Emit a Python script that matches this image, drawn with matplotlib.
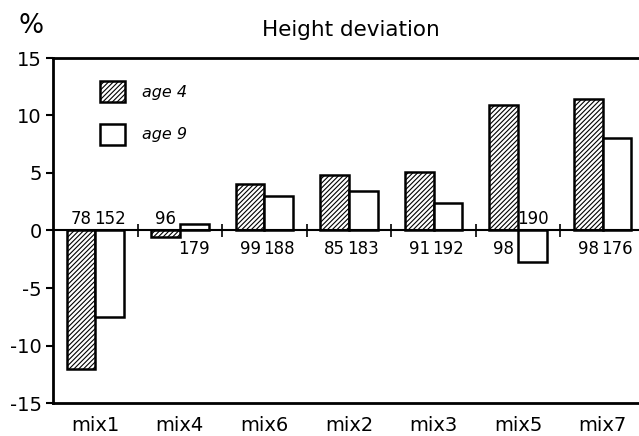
import numpy as np
import matplotlib
matplotlib.use('Agg')
import matplotlib.pyplot as plt

categories = ['mix1', 'mix4', 'mix6', 'mix2', 'mix3', 'mix5', 'mix7']
age4 = [-12.0, -0.6, 4.0, 4.8, 5.1, 10.9, 11.4]
age9 = [-7.5, 0.6, 3.0, 3.4, 2.4, -2.7, 8.0]
n_age4 = ['78', '96', '99', '85', '91', '98', '98']
n_age9 = ['152', '179', '188', '183', '192', '190', '176']
# label above (True) or below (False) the zero line
above4 = [True, True, False, False, False, False, False]
above9 = [True, False, False, False, False, True, False]
yticks = [-15, -10, -5, 0, 5, 10, 15]

plt.rcParams['font.family'] = ['DejaVu Sans']
plt.rcParams['hatch.linewidth'] = 0.8

fig = plt.figure(figsize=(6.39, 4.36), dpi=100)
ax = fig.add_axes([53 / 639, 33 / 436, 586 / 639, 345 / 436])

x = np.arange(len(categories))
w = 0.34
ax.bar(x - w / 2, age4, w, color='white', edgecolor='black', hatch='///////',
       lw=1.8, label='age 4', zorder=3)
ax.bar(x + w / 2, age9, w, color='white', edgecolor='black',
       lw=1.8, label='age 9', zorder=3)

ax.axhline(0, color='black', lw=1.5, zorder=4)
ax.vlines(x[:-1] + 0.5, -0.6, 0.6, color='black', lw=1.2, zorder=4)

# sample sizes
for xs, labels, ups in [(x - w / 2, n_age4, above4), (x + w / 2, n_age9, above9)]:
    for xi, t, up in zip(xs, labels, ups):
        ax.text(xi, 0.2 if up else -0.8, t, ha='center',
                va='bottom' if up else 'top', fontsize=12, zorder=5)

ax.set_xlim(-0.5, 6.43)
ax.set_ylim(-15, 15)
ax.set_yticks(yticks)
ax.set_yticklabels([str(v) for v in yticks], fontsize=14)
ax.set_xticks(x)
ax.set_xticklabels(categories, fontsize=14)
ax.tick_params(axis='x', length=0, pad=9)
ax.tick_params(axis='y', length=5, width=1.5, direction='out', pad=3)
ax.spines['right'].set_visible(False)
for s in ['left', 'top', 'bottom']:
    ax.spines[s].set_linewidth(2)

ax.legend(loc='upper left', bbox_to_anchor=(0.08, 0.933), frameon=False,
          borderpad=0, borderaxespad=0, handlelength=1.6, handleheight=1.6,
          labelspacing=1.4, handletextpad=1.05,
          prop={'style': 'italic', 'size': 11.5})

fig.text(19 / 639, 1 - 33 / 436, '%', fontsize=19, ha='left', va='baseline')
fig.text(351 / 639, 1 - 36 / 436, 'Height deviation', fontsize=15.5,
         ha='center', va='baseline')

fig.savefig('out.png', dpi=100)
